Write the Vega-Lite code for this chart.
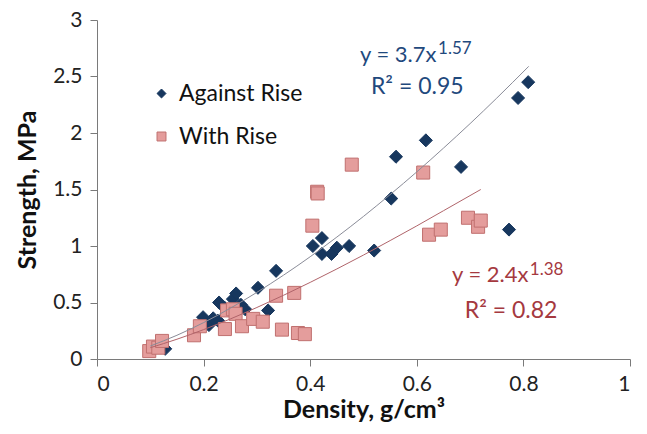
{
  "$schema": "https://vega.github.io/schema/vega-lite/v6.json",
  "width": 533,
  "height": 339,
  "autosize": "none",
  "padding": {"left": 97, "top": 20, "right": 17, "bottom": 75},
  "background": "white",
  "config": {
    "view": {"stroke": null},
    "font": "Lato",
    "axis": {"grid": false, "domainColor": "#7a7a7a", "tickColor": "#7a7a7a", "tickSize": 7, "labelFont": "Lato", "labelFontSize": 21, "labelColor": "#222222", "titleFont": "Lato", "titleFontSize": 25, "titleFontWeight": "bold", "titleColor": "#111111"},
    "legend": {"labelFont": "Lato", "labelFontSize": 23, "labelColor": "#111111", "symbolSize": 80, "rowPadding": 19, "symbolStrokeWidth": 1, "labelOffset": 6}
  },
  "datasets": {
    "pts": [
      {"series": "Against Rise", "density": 0.128, "strength": 0.09},
      {"series": "Against Rise", "density": 0.199, "strength": 0.37},
      {"series": "Against Rise", "density": 0.21, "strength": 0.30},
      {"series": "Against Rise", "density": 0.218, "strength": 0.36},
      {"series": "Against Rise", "density": 0.227, "strength": 0.34},
      {"series": "Against Rise", "density": 0.229, "strength": 0.50},
      {"series": "Against Rise", "density": 0.24, "strength": 0.45},
      {"series": "Against Rise", "density": 0.255, "strength": 0.53},
      {"series": "Against Rise", "density": 0.261, "strength": 0.58},
      {"series": "Against Rise", "density": 0.27, "strength": 0.48},
      {"series": "Against Rise", "density": 0.278, "strength": 0.44},
      {"series": "Against Rise", "density": 0.302, "strength": 0.63},
      {"series": "Against Rise", "density": 0.321, "strength": 0.43},
      {"series": "Against Rise", "density": 0.336, "strength": 0.78},
      {"series": "Against Rise", "density": 0.405, "strength": 1.00},
      {"series": "Against Rise", "density": 0.422, "strength": 1.07},
      {"series": "Against Rise", "density": 0.422, "strength": 0.93},
      {"series": "Against Rise", "density": 0.44, "strength": 0.93},
      {"series": "Against Rise", "density": 0.45, "strength": 0.985},
      {"series": "Against Rise", "density": 0.473, "strength": 1.00},
      {"series": "Against Rise", "density": 0.52, "strength": 0.96},
      {"series": "Against Rise", "density": 0.552, "strength": 1.42},
      {"series": "Against Rise", "density": 0.561, "strength": 1.79},
      {"series": "Against Rise", "density": 0.617, "strength": 1.935},
      {"series": "Against Rise", "density": 0.683, "strength": 1.70},
      {"series": "Against Rise", "density": 0.773, "strength": 1.145},
      {"series": "Against Rise", "density": 0.79, "strength": 2.31},
      {"series": "Against Rise", "density": 0.809, "strength": 2.45},
      {"series": "With Rise", "density": 0.098, "strength": 0.07},
      {"series": "With Rise", "density": 0.105, "strength": 0.11},
      {"series": "With Rise", "density": 0.115, "strength": 0.10},
      {"series": "With Rise", "density": 0.122, "strength": 0.16},
      {"series": "With Rise", "density": 0.182, "strength": 0.21},
      {"series": "With Rise", "density": 0.193, "strength": 0.29},
      {"series": "With Rise", "density": 0.24, "strength": 0.265},
      {"series": "With Rise", "density": 0.244, "strength": 0.43},
      {"series": "With Rise", "density": 0.255, "strength": 0.44},
      {"series": "With Rise", "density": 0.26, "strength": 0.40},
      {"series": "With Rise", "density": 0.272, "strength": 0.29},
      {"series": "With Rise", "density": 0.293, "strength": 0.355},
      {"series": "With Rise", "density": 0.311, "strength": 0.33},
      {"series": "With Rise", "density": 0.336, "strength": 0.56},
      {"series": "With Rise", "density": 0.347, "strength": 0.26},
      {"series": "With Rise", "density": 0.37, "strength": 0.585},
      {"series": "With Rise", "density": 0.377, "strength": 0.23},
      {"series": "With Rise", "density": 0.39, "strength": 0.22},
      {"series": "With Rise", "density": 0.404, "strength": 1.18},
      {"series": "With Rise", "density": 0.413, "strength": 1.48},
      {"series": "With Rise", "density": 0.414, "strength": 1.465},
      {"series": "With Rise", "density": 0.478, "strength": 1.72},
      {"series": "With Rise", "density": 0.612, "strength": 1.65},
      {"series": "With Rise", "density": 0.623, "strength": 1.10},
      {"series": "With Rise", "density": 0.645, "strength": 1.145},
      {"series": "With Rise", "density": 0.696, "strength": 1.25},
      {"series": "With Rise", "density": 0.715, "strength": 1.17},
      {"series": "With Rise", "density": 0.72, "strength": 1.225}
    ],
    "curveA": [
      {"density": 0.10, "strength": 0.115},
      {"density": 0.15, "strength": 0.210},
      {"density": 0.20, "strength": 0.322},
      {"density": 0.25, "strength": 0.449},
      {"density": 0.30, "strength": 0.590},
      {"density": 0.35, "strength": 0.742},
      {"density": 0.40, "strength": 0.905},
      {"density": 0.45, "strength": 1.079},
      {"density": 0.50, "strength": 1.262},
      {"density": 0.55, "strength": 1.455},
      {"density": 0.60, "strength": 1.656},
      {"density": 0.65, "strength": 1.866},
      {"density": 0.70, "strength": 2.083},
      {"density": 0.75, "strength": 2.309},
      {"density": 0.81, "strength": 2.590}
    ],
    "curveW": [
      {"density": 0.10, "strength": 0.100},
      {"density": 0.15, "strength": 0.175},
      {"density": 0.20, "strength": 0.260},
      {"density": 0.25, "strength": 0.354},
      {"density": 0.30, "strength": 0.456},
      {"density": 0.35, "strength": 0.564},
      {"density": 0.40, "strength": 0.678},
      {"density": 0.45, "strength": 0.797},
      {"density": 0.50, "strength": 0.920},
      {"density": 0.55, "strength": 1.048},
      {"density": 0.60, "strength": 1.178},
      {"density": 0.65, "strength": 1.312},
      {"density": 0.72, "strength": 1.500}
    ]
  },
  "layer": [
    {
      "data": {"name": "pts"},
      "mark": {"type": "point", "filled": true, "opacity": 1, "size": 170, "strokeWidth": 1},
      "encoding": {
        "x": {"field": "density", "type": "quantitative", "scale": {"domain": [0, 1], "nice": false}, "axis": {"values": [0, 0.2, 0.4, 0.6, 0.8, 1], "format": "~g", "title": "Density, g/cm³", "labelPadding": 7, "titlePadding": 3}},
        "y": {"field": "strength", "type": "quantitative", "scale": {"domain": [0, 3], "nice": false}, "axis": {"values": [0, 0.5, 1, 1.5, 2, 2.5, 3], "format": "~g", "title": "Strength, MPa", "labelPadding": 8, "titlePadding": 12}},
        "shape": {"field": "series", "type": "nominal", "scale": {"domain": ["Against Rise", "With Rise"], "range": ["diamond", "square"]}, "legend": {"title": null, "orient": "none", "legendX": 53, "legendY": 62}},
        "fill": {"field": "series", "type": "nominal", "scale": {"domain": ["Against Rise", "With Rise"], "range": ["#17375E", "#E49D9C"]}, "legend": {"title": null, "orient": "none", "legendX": 53, "legendY": 62}},
        "stroke": {"field": "series", "type": "nominal", "scale": {"domain": ["Against Rise", "With Rise"], "range": ["#17375E", "#C0706F"]}, "legend": {"title": null, "orient": "none", "legendX": 53, "legendY": 62}}
      }
    },
    {
      "data": {"name": "curveA"},
      "mark": {"type": "line", "stroke": "#8A8C98", "strokeWidth": 1, "interpolate": "monotone"},
      "encoding": {"x": {"field": "density", "type": "quantitative"}, "y": {"field": "strength", "type": "quantitative"}}
    },
    {
      "data": {"name": "curveW"},
      "mark": {"type": "line", "stroke": "#B0646A", "strokeWidth": 1, "interpolate": "monotone"},
      "encoding": {"x": {"field": "density", "type": "quantitative"}, "y": {"field": "strength", "type": "quantitative"}}
    },
    {
      "data": {"values": [{}]},
      "mark": {"type": "text", "align": "left", "baseline": "alphabetic", "fontSize": 22, "color": "#1F497D", "text": "y = 3.7x"},
      "encoding": {"x": {"datum": 0.4934}, "y": {"datum": 2.628}}
    },
    {
      "data": {"values": [{}]},
      "mark": {"type": "text", "align": "left", "baseline": "alphabetic", "fontSize": 17, "color": "#1F497D", "text": "1.57"},
      "encoding": {"x": {"datum": 0.640}, "y": {"datum": 2.70}}
    },
    {
      "data": {"values": [{}]},
      "mark": {"type": "text", "align": "left", "baseline": "alphabetic", "fontSize": 23, "color": "#1F497D", "text": "R² = 0.95"},
      "encoding": {"x": {"datum": 0.514}, "y": {"datum": 2.345}}
    },
    {
      "data": {"values": [{}]},
      "mark": {"type": "text", "align": "left", "baseline": "alphabetic", "fontSize": 22, "color": "#A5393F", "text": "y = 2.4x"},
      "encoding": {"x": {"datum": 0.666}, "y": {"datum": 0.681}}
    },
    {
      "data": {"values": [{}]},
      "mark": {"type": "text", "align": "left", "baseline": "alphabetic", "fontSize": 17, "color": "#A5393F", "text": "1.38"},
      "encoding": {"x": {"datum": 0.812}, "y": {"datum": 0.743}}
    },
    {
      "data": {"values": [{}]},
      "mark": {"type": "text", "align": "left", "baseline": "alphabetic", "fontSize": 23, "color": "#A5393F", "text": "R² = 0.82"},
      "encoding": {"x": {"datum": 0.690}, "y": {"datum": 0.363}}
    }
  ]
}
